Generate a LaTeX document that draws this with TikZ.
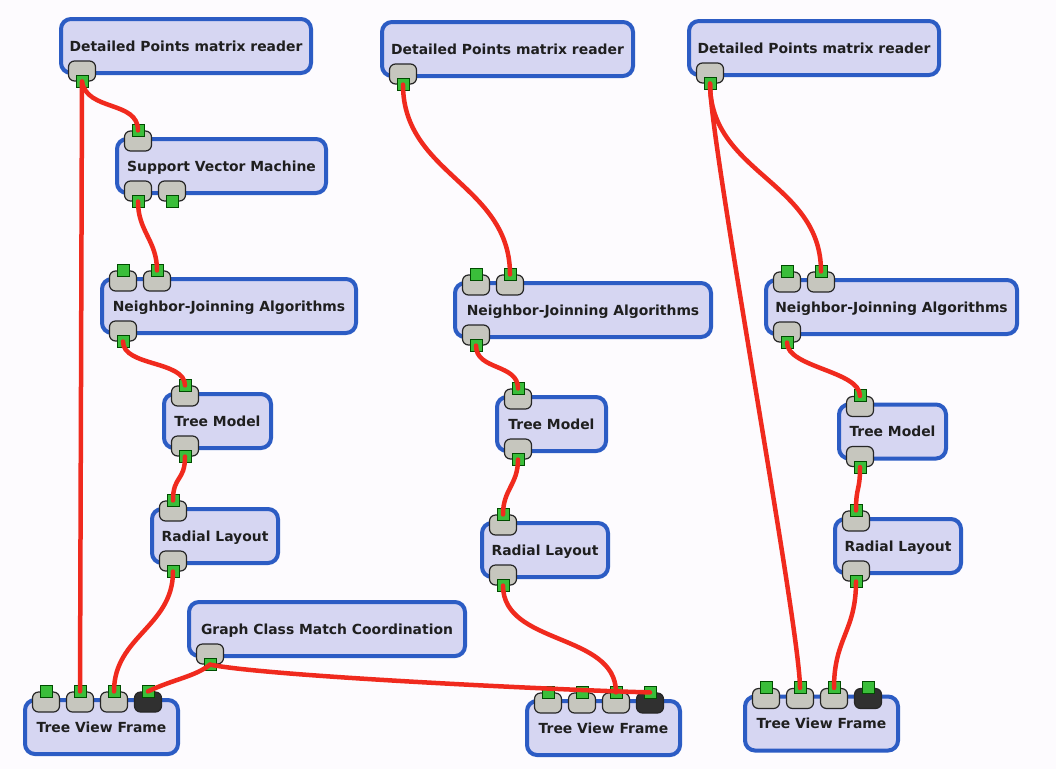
\documentclass[tikz,border=0pt]{standalone}
\usepackage{fontspec}
\newfontfamily\modfont{DejaVu Sans}
\definecolor{paper}{RGB}{253,251,254}
\definecolor{modfill}{RGB}{214,214,242}
\definecolor{modedge}{RGB}{44,92,196}
\definecolor{sockgray}{RGB}{198,198,190}
\definecolor{sockdark}{RGB}{48,48,48}
\definecolor{jackgreen}{RGB}{58,190,58}
\definecolor{wirered}{RGB}{240,42,30}
\tikzset{
  module/.style={draw=modedge, fill=modfill, line width=4pt, rounded corners=10pt,
    minimum height=54pt, inner xsep=4pt, text height=10pt, text depth=0pt,
    text=black!88, font=\modfont\bfseries\fontsize{13.9}{16}\selectfont},
  socket/.style={draw=black!85, fill=sockgray, line width=1.2pt, rounded corners=6pt,
    minimum width=27pt, minimum height=20pt, inner sep=0pt},
  jack/.style={draw=black!70!green, fill=jackgreen, line width=1pt,
    minimum size=12pt, inner sep=0pt},
  wire/.style={draw=wirered, line width=4.5pt, line cap=round},
}
\begin{document}
\begin{tikzpicture}[x=1pt,y=-1pt]
  \useasboundingbox (0,0) rectangle (1056,769);
  \fill[paper] (0,0) rectangle (1056,769);

  % first workflow
  \node[module, minimum width=250pt] (dpmr1) at (186,46) {Detailed Points matrix reader};
  \node[module, minimum width=209pt] (svm) at (221.5,166) {Support Vector Machine};
  \node[module, minimum width=254pt] (nj1) at (229,306) {Neighbor-Joinning Algorithms};
  \node[module, minimum width=107pt] (tm1) at (217.5,421) {Tree Model};
  \node[module, minimum width=126pt] (rl1) at (215,536) {Radial Layout};
  \node[module, minimum width=276pt] (gcmc) at (327,629) {Graph Class Match Coordination};
  \node[module, minimum width=153pt] (tvf1) at (101.5,727) {Tree View Frame};

  % second workflow
  \node[module, minimum width=251pt] (dpmr2) at (507.5,49) {Detailed Points matrix reader};
  \node[module, minimum width=256pt] (nj2) at (583,310) {Neighbor-Joinning Algorithms};
  \node[module, minimum width=109pt] (tm2) at (551.5,424) {Tree Model};
  \node[module, minimum width=126pt] (rl2) at (545,550) {Radial Layout};
  \node[module, minimum width=153pt] (tvf2) at (603.5,728) {Tree View Frame};

  % third workflow
  \node[module, minimum width=250pt] (dpmr3) at (814,48) {Detailed Points matrix reader};
  \node[module, minimum width=251pt] (nj3) at (891.5,307) {Neighbor-Joinning Algorithms};
  \node[module, minimum width=107pt] (tm3) at (892.5,431.5) {Tree Model};
  \node[module, minimum width=126pt] (rl3) at (898,546) {Radial Layout};
  \node[module, minimum width=153pt] (tvf3) at (821.5,723.5) {Tree View Frame};

  % input ports
  \foreach \m/\k/\c in {svm/1/sockgray, nj1/1/sockgray, nj1/2/sockgray, tm1/1/sockgray,
      rl1/1/sockgray, tvf1/1/sockgray, tvf1/2/sockgray, tvf1/3/sockgray, tvf1/4/sockdark,
      nj2/1/sockgray, nj2/2/sockgray, tm2/1/sockgray, rl2/1/sockgray,
      tvf2/1/sockgray, tvf2/2/sockgray, tvf2/3/sockgray, tvf2/4/sockdark,
      nj3/1/sockgray, nj3/2/sockgray, tm3/1/sockgray, rl3/1/sockgray,
      tvf3/1/sockgray, tvf3/2/sockgray, tvf3/3/sockgray, tvf3/4/sockdark}
  {
    \node[socket, fill=\c] (\m-s\k) at ([xshift={(23+34*(\k-1))*1pt}, yshift=-4pt]\m.north west) {};
    \node[jack] (\m-i\k) at (\m-s\k.north) {};
  }

  % output ports
  \foreach \m/\k in {dpmr1/1, svm/1, svm/2, nj1/1, tm1/1, rl1/1, gcmc/1,
      dpmr2/1, nj2/1, tm2/1, rl2/1, dpmr3/1, nj3/1, tm3/1, rl3/1}
  {
    \node[socket] (\m-t\k) at ([xshift={(23+34*(\k-1))*1pt}, yshift=4pt]\m.south west) {};
    \node[jack] (\m-o\k) at (\m-t\k.south) {};
  }

  % connections
  \draw[wire] (dpmr1-o1.center) .. controls +(5,30) and +(0,-30) .. (svm-i1.center);
  \draw[wire] (dpmr1-o1.center) -- (tvf1-i2.center);
  \draw[wire] (svm-o1.center) .. controls +(0,30) and +(0,-30) .. (nj1-i2.center);
  \draw[wire] (nj1-o1.center) .. controls +(0,25) and +(0,-25) .. (tm1-i1.center);
  \draw[wire] (tm1-o1.center) .. controls +(0,25) and +(0,-25) .. (rl1-i1.center);
  \draw[wire] (rl1-o1.center) .. controls +(0,55) and +(0,-55) .. (tvf1-i3.center);
  \draw[wire] (gcmc-o1.center) .. controls +(-15,12) and +(25,-12) .. (tvf1-i4.center);
  \draw[wire] (gcmc-o1.center) .. controls +(60,12) and +(-80,-2) .. (tvf2-i4.center);

  \draw[wire] (dpmr2-o1.center) .. controls +(0,90) and +(0,-90) .. (nj2-i2.center);
  \draw[wire] (nj2-o1.center) .. controls +(0,25) and +(0,-25) .. (tm2-i1.center);
  \draw[wire] (tm2-o1.center) .. controls +(0,25) and +(0,-25) .. (rl2-i1.center);
  \draw[wire] (rl2-o1.center) .. controls +(0,60) and +(0,-60) .. (tvf2-i3.center);

  \draw[wire] (dpmr3-o1.center) .. controls +(0,90) and +(0,-90) .. (nj3-i2.center);
  \draw[wire] (dpmr3-o1.center) .. controls +(0,60) and +(0,-60) .. (tvf3-i2.center);
  \draw[wire] (nj3-o1.center) .. controls +(0,25) and +(0,-25) .. (tm3-i1.center);
  \draw[wire] (tm3-o1.center) .. controls +(0,25) and +(0,-25) .. (rl3-i1.center);
  \draw[wire] (rl3-o1.center) .. controls +(0,50) and +(0,-50) .. (tvf3-i3.center);
\end{tikzpicture}
\end{document}
